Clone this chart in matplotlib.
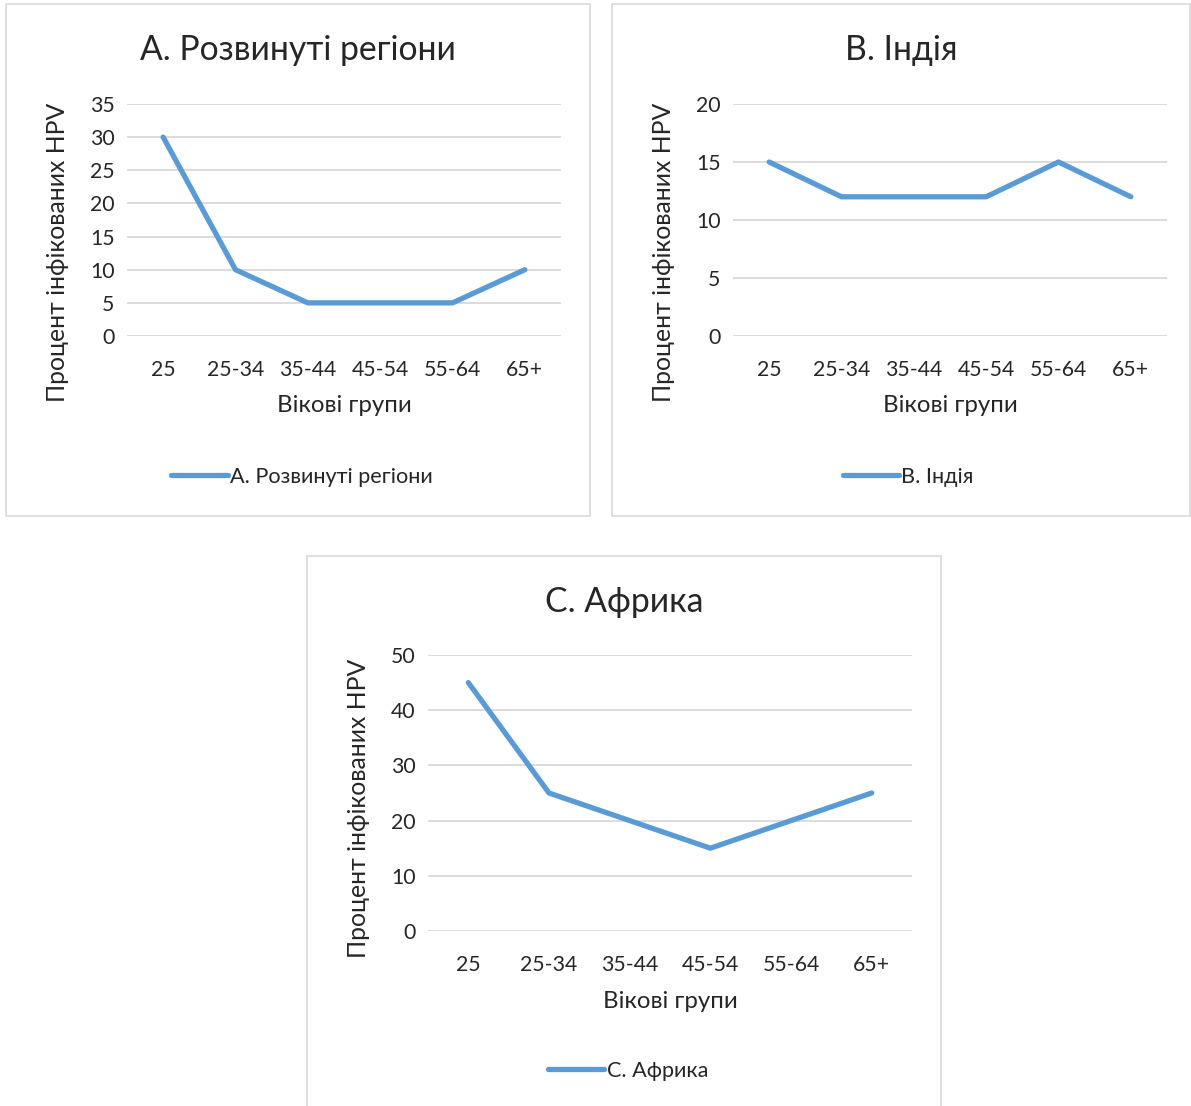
import matplotlib
matplotlib.use("Agg")
import matplotlib.pyplot as plt
from matplotlib.patches import Rectangle

plt.rcParams['font.family'] = ['Lato', 'Noto Sans', 'DejaVu Sans']

W, H = 1191, 1106

categories = ["25", "25-34", "35-44", "45-54", "55-64", "65+"]
developed = [30, 10, 5, 5, 5, 10]
india = [15, 12, 12, 12, 15, 12]
africa = [45, 25, 20, 15, 20, 25]

titles = ["А. Розвинуті регіони", "В. Індія", "С. Африка"]
y_label = "Процент інфікованих HPV"
x_label = "Вікові групи"

LINE = "#5b9bd5"
GRID = "#d9d9d9"
TEXT = "#262626"


def px_rect(x0, y0, x1, y1):
    return [x0 / W, 1 - y1 / H, (x1 - x0) / W, (y1 - y0) / H]


def panel(fig, frame, plot, values, ymax, step, title, legend_y, ylab_y):
    fx0, fy0, fx1, fy1 = frame
    fig.patches.append(Rectangle((fx0 / W, 1 - fy1 / H), (fx1 - fx0) / W, (fy1 - fy0) / H,
                                 transform=fig.transFigure, fill=False,
                                 edgecolor=GRID, linewidth=1.2))
    px0, py0, px1, py1 = plot
    ax = fig.add_axes(px_rect(px0, py0, px1, py1))
    ax.plot(range(len(categories)), values, color=LINE, linewidth=3.8, label=title,
            solid_capstyle="round", solid_joinstyle="round")
    ax.set_xlim(-0.5, len(categories) - 0.5)
    ax.set_ylim(0, ymax)
    ax.set_yticks(range(0, ymax + 1, step))
    ax.set_xticks(range(len(categories)))
    ax.set_xticklabels(categories)
    ax.yaxis.grid(True, color=GRID, linewidth=1.3)
    ax.set_axisbelow(True)
    for s in ax.spines.values():
        s.set_visible(False)
    ax.tick_params(axis="both", length=0, labelsize=15.3, colors=TEXT)
    ax.tick_params(axis="x", pad=17)
    ax.tick_params(axis="y", pad=9)

    cx = (fx0 + fx1) / 2
    fig.text(cx / W, 1 - (fy0 + 46) / H, title, ha="center", va="center",
             fontsize=24.3, color=TEXT)
    fig.text(((px0 + px1) / 2) / W, 1 - (py1 + 70) / H, x_label, ha="center", va="center",
             fontsize=17.3, color=TEXT)
    fig.text((fx0 + 52) / W, 1 - ylab_y / H, y_label, ha="center", va="center",
             rotation=90, fontsize=17.8, color=TEXT)
    ax.legend(loc="center", bbox_to_anchor=(((px0 + px1) / 2 - 42) / W, 1 - legend_y / H),
              bbox_transform=fig.transFigure, frameon=False, fontsize=15.6,
              handlelength=2.6, handletextpad=0.1, labelcolor=TEXT)
    return ax


fig = plt.figure(figsize=(W / 100, H / 100), dpi=100)

panel(fig, (6, 4, 590, 516), (127, 104, 561, 336), developed, 35, 5, titles[0], 477, 252)
panel(fig, (612, 4, 1190, 516), (733, 104, 1167, 336), india, 20, 5, titles[1], 477, 252)
panel(fig, (307, 556, 941, 1130), (428, 655, 912, 931), africa, 50, 10, titles[2], 1071, 808)

fig.savefig("out.png", dpi=100)
